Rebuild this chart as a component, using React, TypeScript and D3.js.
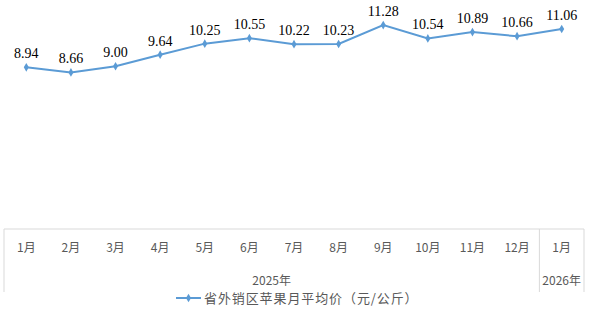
import React from "react";
import * as d3 from "d3";

const months = ["1月", "2月", "3月", "4月", "5月", "6月", "7月", "8月", "9月", "10月", "11月", "12月", "1月"];
const keys = months.map((m, i) => `${i}-${m}`);
const prices = [8.94, 8.66, 9.0, 9.64, 10.25, 10.55, 10.22, 10.23, 11.28, 10.54, 10.89, 10.66, 11.06];
const years = [
  { label: "2025年", from: 0, to: 11 },
  { label: "2026年", from: 12, to: 12 },
];
const seriesName = "省外销区苹果月平均价（元/公斤）";

const W = 590;
const H = 311;
const left = 4;
const right = 584;
const axisY = 229;
const sepBottom = 292;
const color = "#5b9bd5";
const cjk = "'Noto Sans CJK SC', 'Noto Sans', sans-serif";

export default function App() {
  const x = d3.scaleBand<string>().domain(keys).range([left, right]).padding(0);
  const y = d3.scaleLinear().domain([0, 12]).range([axisY, axisY - 217]);
  const cx = (i: number) => (x(keys[i]) as number) + x.bandwidth() / 2;
  const line = d3
    .line<number>()
    .x((_, i) => cx(i))
    .y((d) => y(d));
  const diamond = d3.symbol().type(d3.symbolDiamond).size(22)();
  const separators = [left, ...years.map((g) => (x(keys[g.to]) as number) + x.bandwidth())];

  return (
    <svg width={W} height={H} style={{ position: "absolute", left: 0, top: 0 }}>
      <rect width={W} height={H} fill="#fff" />
      <line x1={left} x2={right} y1={axisY} y2={axisY} stroke="#d9d9d9" strokeWidth={1} />
      {separators.map((sx, i) => (
        <line key={i} x1={sx} x2={sx} y1={axisY} y2={sepBottom} stroke="#d9d9d9" strokeWidth={1} />
      ))}
      <path d={line(prices) || ""} fill="none" stroke={color} strokeWidth={2} />
      {prices.map((v, i) => (
        <path key={"m" + i} d={diamond || ""} transform={`translate(${cx(i)},${y(v)})`} fill={color} />
      ))}
      {prices.map((v, i) => (
        <text
          key={"l" + i}
          x={cx(i)}
          y={y(v) - 9}
          textAnchor="middle"
          fontFamily="'Liberation Serif', 'Times New Roman', serif"
          fontSize={14}
          fill="#000"
        >
          {v.toFixed(2)}
        </text>
      ))}
      {months.map((m, i) => (
        <text key={"x" + i} x={cx(i)} y={252} textAnchor="middle" fontFamily={cjk} fontSize={12} fill="#595959">
          {m}
        </text>
      ))}
      {years.map((g, i) => {
        const a = x(keys[g.from]) as number;
        const b = (x(keys[g.to]) as number) + x.bandwidth();
        return (
          <text key={"y" + i} x={(a + b) / 2} y={285} textAnchor="middle" fontFamily={cjk} fontSize={12} fill="#595959">
            {g.label}
          </text>
        );
      })}
      <g transform="translate(176,298)">
        <line x1={0} x2={25} y1={0} y2={0} stroke={color} strokeWidth={2} />
        <path d={diamond || ""} transform="translate(12.5,0)" fill={color} />
        <text x={28} y={4.5} fontFamily={cjk} fontSize={13} letterSpacing={0.9} fill="#595959">
          {seriesName}
        </text>
      </g>
    </svg>
  );
}
